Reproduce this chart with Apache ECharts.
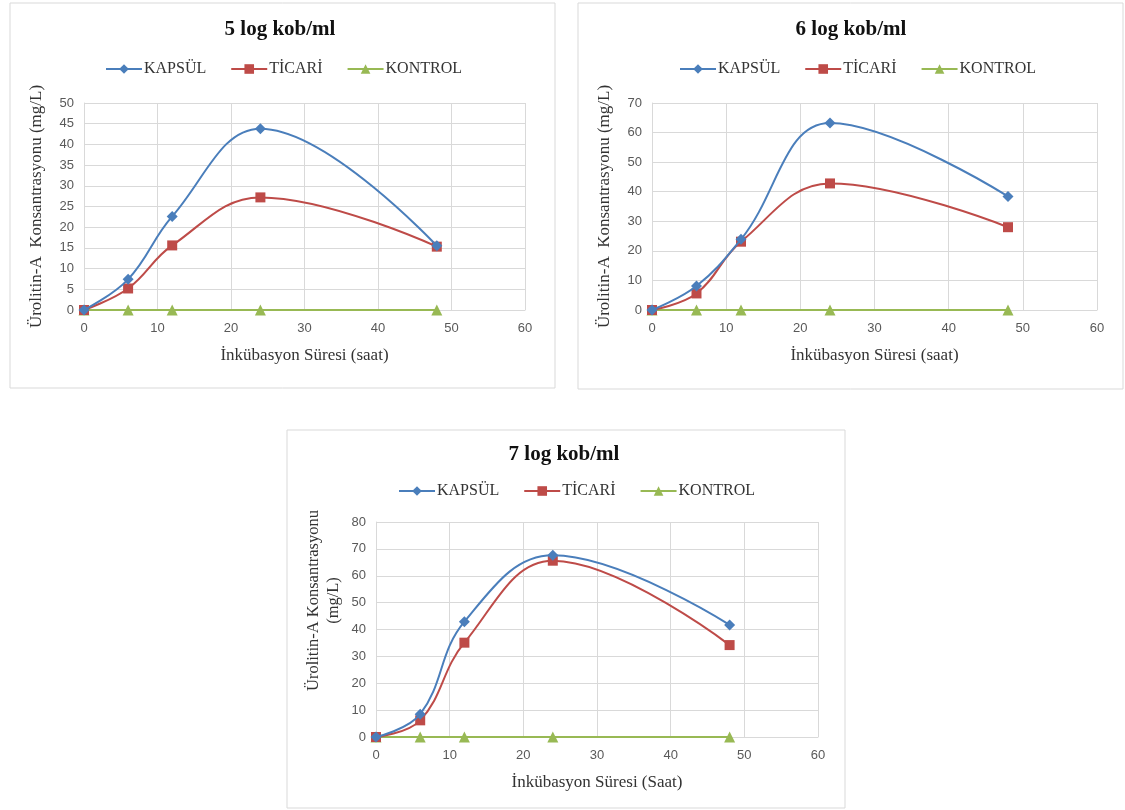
<!DOCTYPE html>
<html>
<head>
<meta charset="utf-8">
<title>Urolitin-A</title>
<script type="text/javascript" src="https://cdn.jsdelivr.net/npm/echarts@6/dist/echarts.min.js"></script>
<style>
	html, body { margin: 0; padding: 0; background: #fff; }
	#container { width: 1125px; height: 810px; }
</style>
</head>
<body>
	<div id="container"></div>
	<script type="text/javascript">
	// saat (hours)
	var hours = [0, 6, 12, 24, 48];

	// 5 log kob/ml
	var kapsul5 = [0, 7.4, 22.6, 43.8, 15.5];
	var ticari5 = [0, 5.2, 15.6, 27.2, 15.3];
	var kontrol5 = [0, 0, 0, 0, 0];

	// 6 log kob/ml
	var kapsul6 = [0, 8.1, 23.9, 63.2, 38.4];
	var ticari6 = [0, 5.6, 23.1, 42.8, 28.0];
	var kontrol6 = [0, 0, 0, 0, 0];

	// 7 log kob/ml
	var kapsul7 = [0, 8.5, 42.9, 67.6, 41.7];
	var ticari7 = [0, 6.2, 35.1, 65.6, 34.2];
	var kontrol7 = [0, 0, 0, 0, 0];

	var seriesNames = ['KAPSÜL', 'TİCARİ', 'KONTROL'];
	var titles = ['5 log kob/ml', '6 log kob/ml', '7 log kob/ml'];
	var yNames = ['Ürolitin-A  Konsantrasyonu (mg/L)', 'Ürolitin-A  Konsantrasyonu (mg/L)', 'Ürolitin-A Konsantrasyonu\n(mg/L)'];
	var xNames = ['İnkübasyon Süresi (saat)', 'İnkübasyon Süresi (saat)', 'İnkübasyon Süresi (Saat)'];
	var yMax = [50, 70, 80];
	var yStep = [5, 10, 10];

	var colors = ['#4a7ebb', '#be4b48', '#98b954'];
	var symbols = ['diamond', 'rect', 'triangle'];
	var symbolSizes = [11, 10, 11];

	var serif = '"Liberation Serif", "DejaVu Serif", serif';
	var sans = '"Liberation Sans", Arial, sans-serif';

	// panel layout
	var panels = [
		{ box: [10, 3, 545, 385], grid: [84, 103, 441, 207], title: [280, 19], legend: [105, 61], yGap: 37, yPad: 0 },
		{ box: [578, 3, 545, 386], grid: [652, 103, 445, 207], title: [851, 19], legend: [679, 61], yGap: 37, yPad: 0 },
		{ box: [287, 430, 558, 378], grid: [376, 522, 442, 215], title: [564, 444], legend: [398, 483], yGap: 32, yPad: 58 }
	];

	var dataSets = [
		[kapsul5, ticari5, kontrol5],
		[kapsul6, ticari6, kontrol6],
		[kapsul7, ticari7, kontrol7]
	];

	function pairs(vals) {
		return hours.map(function (h, i) { return [h, vals[i]]; });
	}

	var dom = document.getElementById('container');
	var myChart = echarts.init(dom);

	var option = {
		animation: false,
		backgroundColor: '#fff',
		title: [], legend: [], grid: [], xAxis: [], yAxis: [], series: [], graphic: []
	};

	panels.forEach(function (p, k) {
		option.graphic.push({
			type: 'rect',
			silent: true,
			z: -10,
			shape: { x: p.box[0], y: p.box[1], width: p.box[2], height: p.box[3] },
			style: { fill: '#fff', stroke: '#d9d9d9', lineWidth: 1 }
		});
		option.title.push({
			text: titles[k],
			left: p.title[0],
			top: p.title[1],
			textAlign: 'center',
			padding: 0,
			textStyle: { fontFamily: serif, fontSize: 21, fontWeight: 'bold', color: '#111' }
		});
		option.legend.push({
			data: seriesNames,
			left: p.legend[0],
			top: p.legend[1],
			padding: 0,
			itemWidth: 36,
			itemHeight: 12,
			itemGap: 24,
			textStyle: { fontFamily: serif, fontSize: 16, color: '#333', padding: [0, 0, 0, -3] }
		});
		option.grid.push({
			left: p.grid[0], top: p.grid[1], width: p.grid[2], height: p.grid[3],
			containLabel: false,
			show: false
		});
		option.xAxis.push({
			type: 'value',
			gridIndex: k,
			min: 0, max: 60, interval: 10,
			name: xNames[k],
			nameLocation: 'middle',
			nameGap: 37,
			nameTextStyle: { fontFamily: serif, fontSize: 17, color: '#333' },
			axisLine: { show: true, onZero: false, lineStyle: { color: '#d9d9d9' } },
			axisTick: { show: false },
			splitLine: { show: true, lineStyle: { color: '#d9d9d9' } },
			axisLabel: { fontFamily: sans, fontSize: 13, color: '#595959', margin: 12 }
		});
		option.yAxis.push({
			type: 'value',
			gridIndex: k,
			min: 0, max: yMax[k], interval: yStep[k],
			name: yNames[k],
			nameLocation: 'middle',
			nameRotate: 90,
			nameGap: p.yGap,
			nameTruncate: { maxWidth: null },
			nameTextStyle: {
				fontFamily: serif, fontSize: k === 2 ? 16.5 : 17, color: '#333', lineHeight: 20,
				padding: [0, 0, 0, p.yPad],
				overflow: 'none'
			},
			axisLine: { show: true, lineStyle: { color: '#d9d9d9' } },
			axisTick: { show: false },
			splitLine: { show: true, lineStyle: { color: '#d9d9d9' } },
			axisLabel: { fontFamily: sans, fontSize: 13, color: '#595959', margin: 10 }
		});
		dataSets[k].forEach(function (vals, s) {
			option.series.push({
				name: seriesNames[s],
				type: 'line',
				xAxisIndex: k,
				yAxisIndex: k,
				data: pairs(vals),
				smooth: s === 2 ? false : 0.4,
				symbol: symbols[s],
				symbolSize: symbolSizes[s],
				color: colors[s],
				lineStyle: { width: 2, color: colors[s] },
				itemStyle: { color: colors[s] },
				z: 3 - s
			});
		});
	});

	myChart.setOption(option, true);
	</script>
</body>
</html>
